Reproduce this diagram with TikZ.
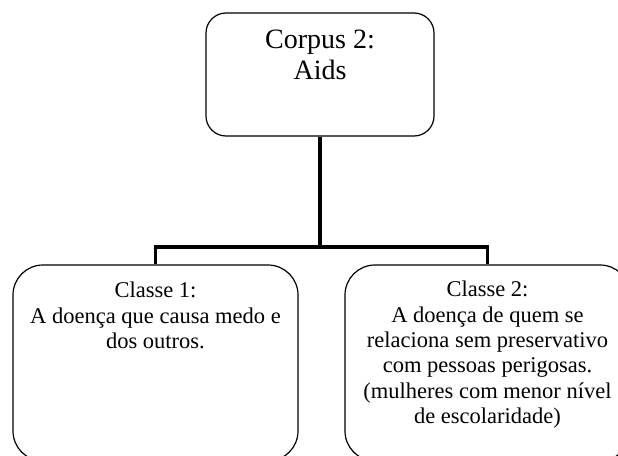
\documentclass[tikz,border=0pt]{standalone}
\usepackage{fontspec}
\setmainfont{Liberation Serif}
\begin{document}
\begin{tikzpicture}[x=1pt,y=-1pt,
  box/.style={draw=black, line width=1.2pt, fill=white, inner sep=0pt},
  topbox/.style={box, rounded corners=20pt, minimum width=228pt, minimum height=123pt},
  classbox/.style={box, rounded corners=30pt, minimum width=285pt, minimum height=196pt},
  conn/.style={draw=black, line width=3.6pt, line join=miter},
  lbl/.style={inner sep=0pt, align=center, anchor=north},
  bigfont/.style={font=\fontsize{28}{31}\selectfont},
  smallfont/.style={font=\fontsize{22.5}{25.3}\selectfont}]
\useasboundingbox (0,0) rectangle (618,455);
\clip (0,0) rectangle (618,455);
\fill[white] (0,0) rectangle (618,455);
\node[topbox] (top) at (320,74.5) {};
\node[classbox] (left) at (155.5,363) {};
\node[classbox] (right) at (487.5,363) {};
\coordinate (junction) at (320,247);
\draw[conn] (top.south) -- (junction);
\draw[conn] (left.north) |- (junction) -| (right.north);
\node[lbl, bigfont] (toptext) at (320,30) {Corpus 2:\\Aids};
\node[lbl, smallfont] (lefttext) at (155.5,282) {Classe 1:\\A doença que causa medo e\\dos outros.};
\node[lbl, smallfont] (righttext) at (487.5,281) {Classe 2:\\A doença de quem se\\relaciona sem preservativo\\com pessoas perigosas.\\(mulheres com menor nível\\de escolaridade)};
\end{tikzpicture}
\end{document}
